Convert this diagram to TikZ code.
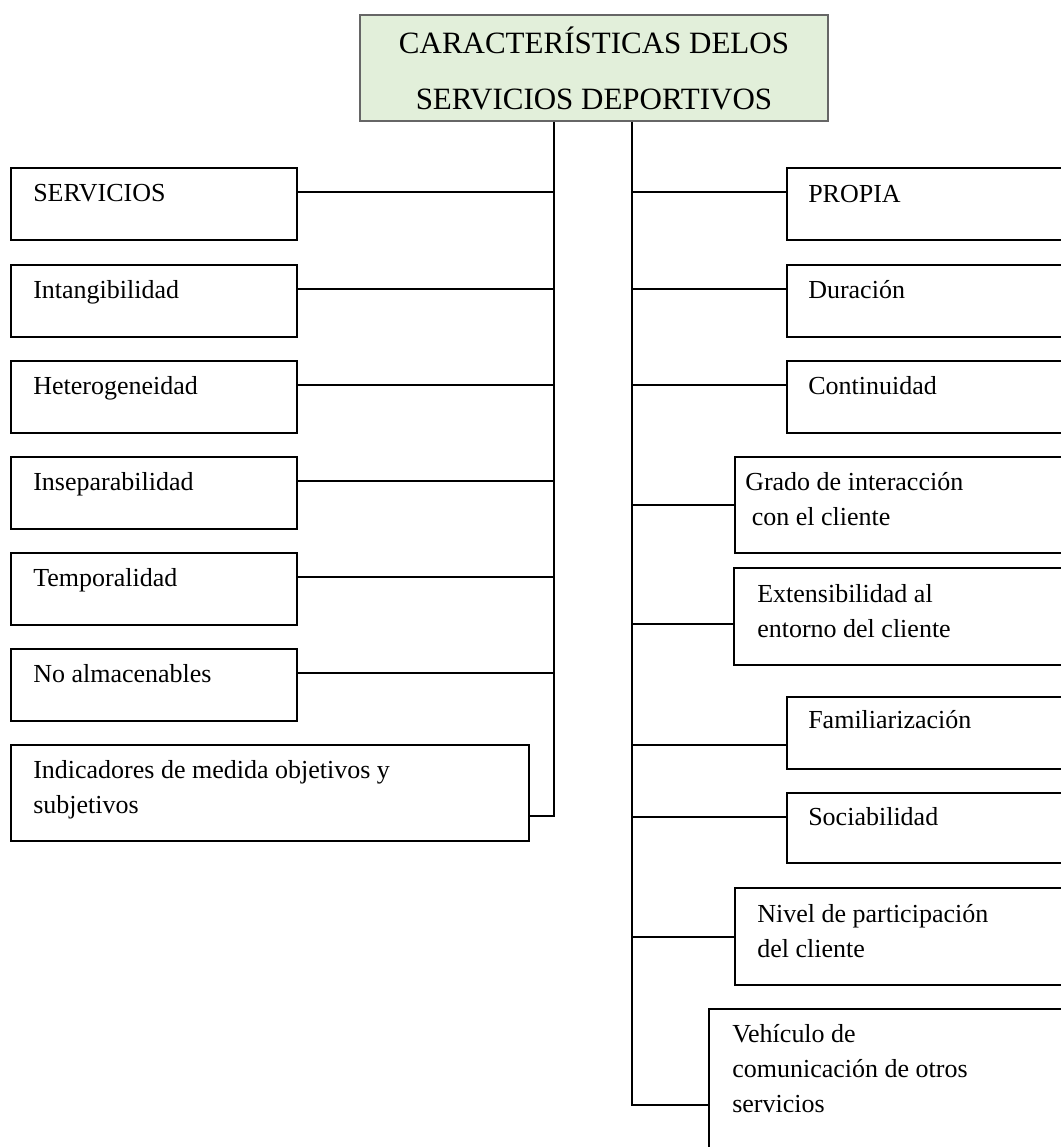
\documentclass[tikz,border=0pt]{standalone}
\usepackage{fontspec}
\setmainfont{Liberation Serif}
\usetikzlibrary{fit}
\definecolor{titlegreen}{HTML}{E2EFDA}
\begin{document}
\begin{tikzpicture}[x=0.75pt,y=-0.75pt,
  box/.style={draw=black, line width=1.4pt, inner sep=0pt, rectangle},
  txt/.style={anchor=base west, inner sep=0pt, font=\fontsize{19.5}{26.5}\selectfont},
  link/.style={draw=black, line width=1.4pt},
  titlebox/.style={draw=black!60, line width=1pt, fill=titlegreen, inner sep=0pt,
    minimum width=351pt, minimum height=79.5pt, align=center,
    font=\fontsize{23.25}{42}\selectfont}]
\useasboundingbox (0,0) rectangle (1061,1147);
\fill[white] (0,0) rectangle (1061,1147);
\clip (0,0) rectangle (1061,1147);

% title
\node[titlebox] (title) at (594,68) {CARACTERÍSTICAS DELOS\\SERVICIOS DEPORTIVOS};

% left boxes
\node[box, fit={(11,168) (297,240)}] (serv) {};
\node[box, fit={(11,265) (297,337)}] (intan) {};
\node[box, fit={(11,361) (297,433)}] (hetero) {};
\node[box, fit={(11,457) (297,529)}] (insep) {};
\node[box, fit={(11,553) (297,625)}] (temp) {};
\node[box, fit={(11,649) (297,721)}] (noalm) {};
\node[box, fit={(11,745) (529,841)}] (ind) {};

\node[txt] (tserv) at (33,201) {SERVICIOS};
\node[txt] (tintan) at (33,298) {Intangibilidad};
\node[txt] (thetero) at (33,394) {Heterogeneidad};
\node[txt] (tinsep) at (33,490) {Inseparabilidad};
\node[txt] (ttemp) at (33,586) {Temporalidad};
\node[txt] (tnoalm) at (33,682) {No almacenables};
\node[txt] (tind) at (33,778) {\vtop{\hbox{Indicadores de medida objetivos y}\hbox{subjetivos}}};

% right boxes
\node[box, fit={(787,168) (1080,240)}] (propia) {};
\node[box, fit={(787,265) (1080,337)}] (dur) {};
\node[box, fit={(787,361) (1080,433)}] (cont) {};
\node[box, fit={(735,457) (1080,553)}] (grado) {};
\node[box, fit={(734,568) (1080,665)}] (ext) {};
\node[box, fit={(787,697) (1080,769)}] (fam) {};
\node[box, fit={(787,793) (1080,863)}] (soc) {};
\node[box, fit={(735,888) (1080,985)}] (niv) {};
\node[box, fit={(709,1009) (1080,1170)}] (veh) {};

\node[txt] (tpropia) at (808,202) {PROPIA};
\node[txt] (tdur) at (808,298) {Duración};
\node[txt] (tcont) at (808,394) {Continuidad};
\node[txt] (tgrado) at (745,490) {\vtop{\hbox{Grado de interacción}\hbox{\ con el cliente}}};
\node[txt] (text) at (757,602) {\vtop{\hbox{Extensibilidad al}\hbox{entorno del cliente}}};
\node[txt] (tfam) at (808,728) {Familiarización};
\node[txt] (tsoc) at (808,825) {Sociabilidad};
\node[txt] (tniv) at (757,922) {\vtop{\hbox{Nivel de participación}\hbox{del cliente}}};
\node[txt] (tveh) at (732,1042) {\vtop{\hbox{Vehículo de}\hbox{comunicación de otros}\hbox{servicios}}};

% spines
\coordinate (Lend) at (554,816);
\coordinate (Rend) at (632,1105);
\draw[link] (title.south -| Lend) -- (Lend) -- (ind.east |- Lend);
\draw[link] (title.south -| Rend) -- (Rend) -- (veh.west |- Rend);

% left branches
\foreach \n/\yy in {serv/192, intan/289, hetero/385, insep/481, temp/577, noalm/673}
  \draw[link] (\n.east |- 0,\yy) -- (Lend |- 0,\yy);

% right branches
\foreach \n/\yy in {propia/192, dur/289, cont/385, grado/505, ext/624, fam/745, soc/817, niv/937}
  \draw[link] (Rend |- 0,\yy) -- (\n.west |- 0,\yy);
\end{tikzpicture}
\end{document}
